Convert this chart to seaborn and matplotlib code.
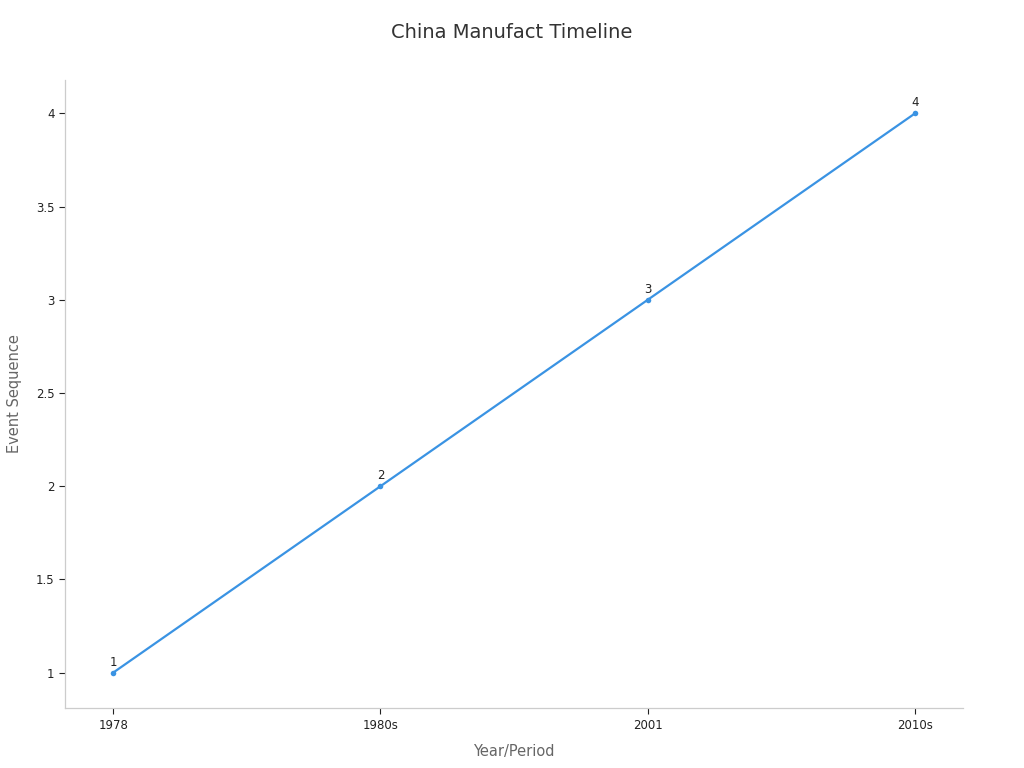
import pandas as pd
import matplotlib
matplotlib.use("Agg")
import matplotlib.pyplot as plt
import seaborn as sns

# ------------------ DATA ------------------

periods = ["1978", "1980s", "2001", "2010s"]
sequence = [1, 2, 3, 4]

df = pd.DataFrame({"period": periods, "seq": sequence})
df["pos"] = range(len(df))

# ------------------ PLOT ------------------

sns.set_theme(style="white")
plt.rcParams["font.family"] = ["DejaVu Sans"]

LINE_COLOR = "#3a93e3"

fig = plt.figure(figsize=(10.24, 7.68), dpi=100)
ax = fig.add_axes([0.0635, 0.078, 0.8770, 0.818])

sns.lineplot(data=df, x="pos", y="seq", ax=ax, color=LINE_COLOR,
             linewidth=1.6, marker="o", markersize=4, markeredgewidth=0)

for x, y in zip(df["pos"], df["seq"]):
    ax.annotate(str(y), (x, y), xytext=(0, 3), textcoords="offset points",
                ha="center", va="bottom", fontsize=8.5, color="#222222")

ax.set_xticks(df["pos"])
ax.set_xticklabels(periods)
ax.set_yticks([1, 1.5, 2, 2.5, 3, 3.5, 4])
ax.set_yticklabels(["1", "1.5", "2", "2.5", "3", "3.5", "4"])
ax.set_xlim(-0.18, 3.18)
ax.set_ylim(0.81, 4.18)

ax.tick_params(axis="both", labelsize=8.5, colors="#222222", length=4,
               width=0.8, direction="out", bottom=True, left=True)
for t in ax.get_xticklines() + ax.get_yticklines():
    t.set_color("#888888")

for side in ["top", "right"]:
    ax.spines[side].set_visible(False)
for side in ["left", "bottom"]:
    ax.spines[side].set_color("#cccccc")
    ax.spines[side].set_linewidth(0.9)

ax.set_xlabel("Year/Period", fontsize=10.5, color="#666666", labelpad=9)
ax.set_ylabel("Event Sequence", fontsize=10.5, color="#666666", labelpad=10)
fig.suptitle("China Manufact Timeline", fontsize=14, color="#333333", y=0.97)

plt.savefig("out.png", dpi=100)
plt.close()
